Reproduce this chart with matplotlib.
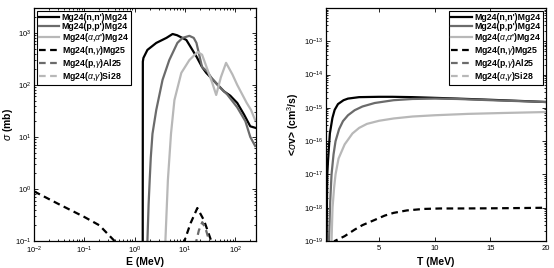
import matplotlib
matplotlib.use('Agg')
from matplotlib import pyplot as plt

plt.rcParams['font.family'] = ['Liberation Sans', 'DejaVu Sans']
plt.rcParams['mathtext.fontset'] = 'custom'
plt.rcParams['mathtext.rm'] = 'Liberation Sans'
plt.rcParams['mathtext.it'] = 'Liberation Sans:italic'

labels = ["Mg24(n,n')Mg24", "Mg24(p,p')Mg24", r"Mg24($\alpha$,$\alpha$')Mg24",
          r"Mg24(n,$\gamma$)Mg25", r"Mg24(p,$\gamma$)Al25", r"Mg24($\alpha$,$\gamma$)Si28"]

# cross sections, E in MeV, sigma in mb
e_nn = [1.45, 1.46, 1.5, 1.8, 2.7, 4.3, 5.7, 7, 10.7, 17, 22, 26.7, 35, 45, 60, 80, 110, 150, 200, 250]
s_nn = [0.01, 280, 330, 470, 640, 800, 950, 900, 730, 350, 220, 170, 130, 100, 75, 62, 45, 27, 16, 15]
e_pp = [1.75, 1.8, 1.9, 2.0, 2.1, 2.27, 2.7, 3.6, 4.9, 7.1, 9, 12.3, 15, 17, 22, 28, 35, 50, 70, 110, 160, 200, 250]
s_pp = [0.05, 0.1, 0.5, 1.5, 4, 11.5, 33, 125, 300, 640, 800, 875, 800, 640, 220, 180, 130, 90, 65, 37, 20, 10, 6.7]
e_aa = [4.0, 4.1, 4.6, 5.3, 6.2, 8.5, 12.3, 18, 22, 27, 35, 42, 52, 66, 88, 110, 170, 207, 250]
s_aa = [0.05, 0.1, 1.5, 11.5, 51, 170, 300, 430, 380, 220, 110, 64, 140, 265, 160, 100, 45, 33, 21]
e_ng = [0.01, 0.03, 0.1, 0.2, 0.4, 0.7, 1, 3, 8, 9.8, 13, 17.7, 24, 33.5, 40]
s_ng = [0.9, 0.52, 0.29, 0.2, 0.1, 0.07, 0.05, 0.04, 0.06, 0.1, 0.22, 0.43, 0.25, 0.1, 0.06]
e_pg = [15, 16.9, 19, 22.2, 26, 30.5, 34]
s_pg = [0.05, 0.1, 0.16, 0.23, 0.17, 0.1, 0.06]
e_ag = [20, 28, 40]
s_ag = [0.01, 0.06, 0.01]

# reaction rates, T in MeV, <sigma v> in cm^3/s
t_nn = [0.26, 0.28, 0.31, 0.34, 0.4, 0.57, 0.8, 1.0, 1.3, 1.8, 2.2, 3.2, 5, 6.2, 8, 10, 12, 15, 18, 20]
r_nn = [1e-20, 1e-19, 1.6e-18, 1e-17, 2.5e-17, 1.7e-16, 5e-16, 8.7e-16, 1.3e-15, 1.7e-15, 1.9e-15, 2.1e-15,
        2.15e-15, 2.15e-15, 2.1e-15, 2.0e-15, 1.9e-15, 1.75e-15, 1.6e-15, 1.5e-15]
t_pp = [0.45, 0.49, 0.6, 0.72, 0.9, 1.08, 1.4, 1.75, 2.2, 2.8, 3.5, 4.6, 6.3, 8, 10, 12, 15, 20]
r_pp = [1e-20, 1e-19, 1.5e-18, 1e-17, 4e-17, 1e-16, 2.3e-16, 4e-16, 6e-16, 8.5e-16, 1.1e-15, 1.4e-15,
        1.7e-15, 1.85e-15, 1.9e-15, 1.85e-15, 1.7e-15, 1.5e-15]
t_aa = [0.68, 0.72, 0.81, 0.95, 1.08, 1.35, 1.9, 2.6, 3.2, 3.9, 5, 6.3, 8, 10, 13, 16, 20]
r_aa = [1e-20, 1e-19, 1e-18, 4e-18, 1e-17, 3e-17, 8e-17, 1.7e-16, 2.5e-16, 3.3e-16, 4.1e-16, 4.8e-16,
        5.5e-16, 6e-16, 6.6e-16, 7e-16, 7.5e-16]
t_ng = [0.9, 1.0, 1.9, 2.8, 3.5, 4.6, 5.5, 6.3, 7.5, 9, 10.5, 12, 15, 18, 20]
r_ng = [8e-20, 1e-19, 1.4e-19, 2.2e-19, 3e-19, 4.3e-19, 5.8e-19, 7e-19, 8.3e-19, 9.2e-19, 9.5e-19,
        9.5e-19, 9.6e-19, 9.8e-19, 1e-18]
t_pg = [0.5, 5, 10, 20]
r_pg = [1e-22, 1e-21, 2e-21, 3e-21]
t_ag = [0.5, 5, 10, 20]
r_ag = [1e-23, 1e-22, 3e-22, 5e-22]

colors = ['black', (0.42, 0.42, 0.42), (0.72, 0.72, 0.72)]
lw = 1.6

fig = plt.figure(figsize=(5.54, 2.68), dpi=100)
ax1 = fig.add_axes([0.0614, 0.1007, 0.4007, 0.8694])
ax2 = fig.add_axes([0.5884, 0.1007, 0.3971, 0.8694])

left = [(e_nn, s_nn), (e_pp, s_pp), (e_aa, s_aa), (e_ng, s_ng), (e_pg, s_pg), (e_ag, s_ag)]
right = [(t_nn, r_nn), (t_pp, r_pp), (t_aa, r_aa), (t_ng, r_ng), (t_pg, r_pg), (t_ag, r_ag)]

for ax, data in [(ax1, left), (ax2, right)]:
    for i, (x, y) in enumerate(data):
        ls = '-' if i < 3 else (0, (3, 2))
        ax.plot(x, y, color=colors[i % 3], lw=lw, linestyle=ls, label=labels[i])
    ax.set_yscale('log')
    ax.tick_params(which='both', direction='in', top=True, right=True, labelsize=5.5, width=0.6, pad=2)
    ax.tick_params(axis='x', which='major', pad=3)
    ax.tick_params(which='major', length=3)
    ax.tick_params(which='minor', length=1.5)
    for s in ax.spines.values():
        s.set_linewidth(0.9)

ax1.set_xscale('log')
ax1.set_xlim(0.01, 260)
ax1.set_ylim(0.1, 3000)
ax1.set_xlabel('E (MeV)', fontsize=7.5, fontweight='bold')
ax1.set_ylabel(r'$\sigma$ (mb)', fontsize=7.5, fontweight='bold')
ax1.xaxis.set_label_coords(0.5, -0.07)
ax1.yaxis.set_label_coords(-0.086, 0.5)

ax2.set_xlim(0.22, 20)
ax2.set_ylim(1e-19, 1e-12)
ax2.set_xticks([5, 10, 15, 20])
ax2.set_yticks([10.0 ** k for k in range(-19, -12)])
ax2.set_xlabel('T (MeV)', fontsize=7.5, fontweight='bold')
ax2.set_ylabel(r'<$\sigma$v> (cm$^3$/s)', fontsize=7.5, fontweight='bold')
ax2.xaxis.set_label_coords(0.5, -0.07)
ax2.yaxis.set_label_coords(-0.114, 0.5)

leg_kw = dict(prop={'weight': 'bold', 'size': 6.3}, fancybox=False, edgecolor='black',
              framealpha=1, borderpad=0.25, labelspacing=0.0, handlelength=2.3, handletextpad=0.3,
              borderaxespad=0.3)
l1 = ax1.legend(loc='upper left', **leg_kw)
l2 = ax2.legend(loc='upper right', **leg_kw)
for l in (l1, l2):
    l.get_frame().set_linewidth(0.8)

fig.savefig('out.png', dpi=100)
